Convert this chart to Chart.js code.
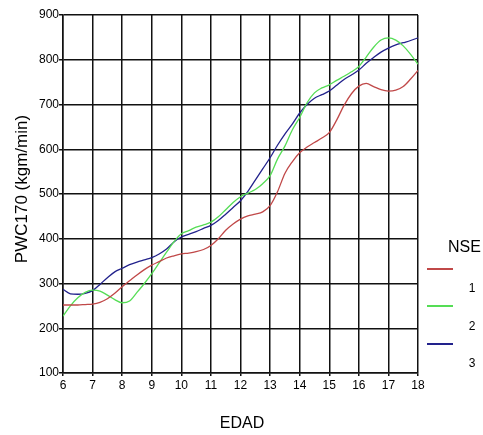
<!DOCTYPE html>
<html>
<head>
<meta charset="utf-8">
<script src="https://cdn.jsdelivr.net/npm/chart.js@4/dist/chart.umd.min.js"></script>
<style>
html,body{margin:0;padding:0;background:#fff;}
canvas{display:block;}
</style>
</head>
<body>
<canvas id="c" width="483" height="435"></canvas>
<script>
// ---- data ----
const ages = [6,6.25,6.5,6.75,7,7.25,7.5,7.75,8,8.25,8.5,8.75,9,9.25,9.5,9.75,10,10.25,10.5,10.75,11,11.25,11.5,11.75,12,12.25,12.5,12.75,13,13.25,13.5,13.75,14,14.25,14.5,14.75,15,15.25,15.5,15.75,16,16.25,16.5,16.75,17,17.25,17.5,17.75,18];
const nse1 = [252,252,252,253,254,258,266,278,293,306,319,331,341,349,357,362,366,368,371,376,385,400,419,433,444,451,455,460,474,505,546,572,592,605,615,625,637,665,698,724,741,747,740,733,730,732,740,757,776];
const nse2 = [227,250,268,280,285,283,274,264,257,261,280,300,322,346,370,393,411,418,426,431,437,449,465,481,494,502,510,523,541,578,607,643,671,704,726,737,744,754,763,773,785,806,828,844,849,844,831,812,790];
const nse3 = [287,277,276,278,284,298,313,326,334,342,348,353,358,366,377,393,404,410,416,423,430,441,455,470,485,506,531,556,581,609,634,656,681,700,714,722,730,743,756,766,777,792,805,817,826,833,838,843,849];
const seriesLabels = ['1','2','3'];
const seriesColors = ['#c04848','#55dd55','#22228c'];
const legendTitle = 'NSE';
const xTitle = 'EDAD';
const yTitle = 'PWC170 (kgm/min)';
const xMin = 6, xMax = 18, yMin = 100, yMax = 900;

const FONT = "'Liberation Sans', Arial, sans-serif";

function pts(vals){ return ages.map((a,i)=>({x:a,y:vals[i]})); }

const extras = {
  id:'extras',
  afterDraw(chart){
    const ctx = chart.ctx;
    ctx.save();
    ctx.fillStyle = '#000';
    ctx.textAlign = 'center';
    ctx.textBaseline = 'middle';
    ctx.font = '16px ' + FONT;
    ctx.fillText(xTitle, 242, 424);
    ctx.save();
    ctx.translate(22, 189);
    ctx.rotate(-Math.PI/2);
    ctx.font = '17px ' + FONT;
    ctx.fillText(yTitle, 0, 0);
    ctx.restore();
    // legend
    ctx.font = '16px ' + FONT;
    ctx.textAlign = 'left';
    ctx.fillText(legendTitle, 448, 248);
    const lineYs = [269, 306, 344];
    const labYs = [289, 327, 364];
    ctx.font = '12px ' + FONT;
    ctx.textAlign = 'center';
    seriesLabels.forEach((lab,i)=>{
      ctx.strokeStyle = seriesColors[i];
      ctx.lineWidth = 2;
      ctx.beginPath();
      ctx.moveTo(427, lineYs[i]);
      ctx.lineTo(453, lineYs[i]);
      ctx.stroke();
      ctx.fillText(lab, 472, labYs[i]);
    });
    ctx.restore();
  }
};

new Chart(document.getElementById('c'), {
  type:'line',
  data:{
    datasets: [nse1,nse2,nse3].map((v,i)=>({
      label: seriesLabels[i],
      data: pts(v),
      borderColor: seriesColors[i],
      borderWidth: 1.3,
      pointRadius: 0,
      tension: 0.4,
      cubicInterpolationMode: 'monotone',
      fill:false
    }))
  },
  options:{
    responsive:false,
    animation:false,
    layout:{padding:{top:15,right:65,left:0,bottom:0}},
    plugins:{legend:{display:false},tooltip:{enabled:false}},
    scales:{
      x:{
        type:'linear', min:xMin, max:xMax,
        ticks:{stepSize:1, color:'#000', font:{family:FONT,size:12}, padding:2, maxRotation:0},
        grid:{color:'#111', lineWidth:1.5, tickLength:3, tickColor:'#111'},
        border:{color:'#111', width:1.5},
        afterFit(s){ s.height = 62; }
      },
      y:{
        min:yMin, max:yMax,
        ticks:{stepSize:100, color:'#000', font:{family:FONT,size:12}, padding:0},
        grid:{color:'#111', lineWidth:1.5, tickLength:4, tickColor:'#111'},
        border:{color:'#111', width:1.5},
        afterFit(s){ s.width = 63; }
      }
    }
  },
  plugins:[extras]
});
</script>
</body>
</html>
